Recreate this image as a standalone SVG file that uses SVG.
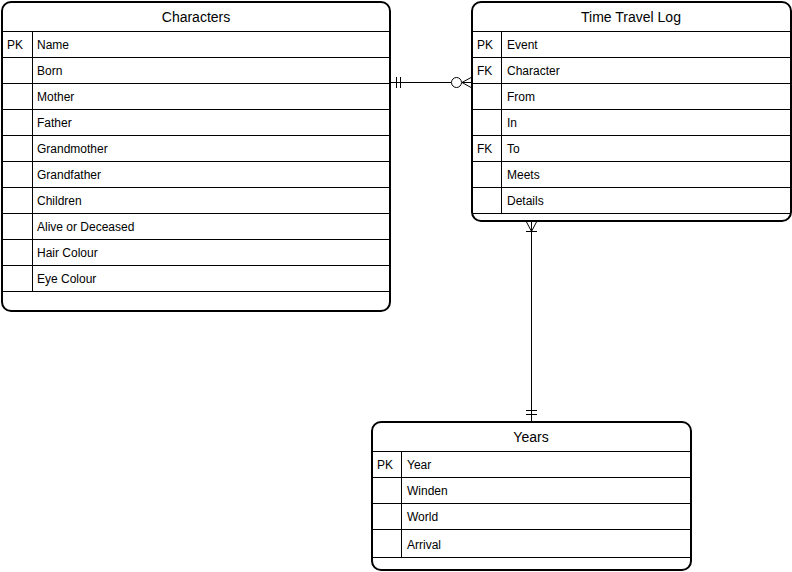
<svg xmlns="http://www.w3.org/2000/svg" width="792" height="572" viewBox="0 0 792 572">
<style>
.box{fill:#fff;stroke:#000;stroke-width:2}
.ln{stroke:#000;stroke-width:1;fill:none}
.t{font-family:"Liberation Sans",Arial,sans-serif;font-size:12px;fill:#000}
.h{font-family:"Liberation Sans",Arial,sans-serif;font-size:14px;fill:#000;text-anchor:middle}
</style>
<rect width="792" height="572" fill="#fff"/>
<g id="characters">
<rect class="box" x="2" y="2" width="388" height="309" rx="9"/>
<text class="h" x="196" y="22">Characters</text>
<path class="ln" d="M2 31.5H390M2 57.5H390M2 83.5H390M2 109.5H390M2 135.5H390M2 161.5H390M2 187.5H390M2 213.5H390M2 239.5H390M2 265.5H390M2 291.5H390M32.5 31V291"/>
<text class="t" x="7" y="49">PK</text>
<text class="t" x="37" y="49">Name</text>
<text class="t" x="37" y="75">Born</text>
<text class="t" x="37" y="101">Mother</text>
<text class="t" x="37" y="127">Father</text>
<text class="t" x="37" y="153">Grandmother</text>
<text class="t" x="37" y="179">Grandfather</text>
<text class="t" x="37" y="205">Children</text>
<text class="t" x="37" y="231">Alive or Deceased</text>
<text class="t" x="37" y="257">Hair Colour</text>
<text class="t" x="37" y="283">Eye Colour</text>
</g>
<g id="timetravellog">
<rect class="box" x="472" y="2" width="319" height="219" rx="9"/>
<text class="h" x="631" y="22">Time Travel Log</text>
<path class="ln" d="M472 31.5H791M472 57.5H791M472 83.5H791M472 109.5H791M472 135.5H791M472 161.5H791M472 187.5H791M472 213.5H791M501.5 31V213"/>
<text class="t" x="477" y="49">PK</text>
<text class="t" x="507" y="49">Event</text>
<text class="t" x="477" y="75">FK</text>
<text class="t" x="507" y="75">Character</text>
<text class="t" x="507" y="101">From</text>
<text class="t" x="507" y="127">In</text>
<text class="t" x="477" y="153">FK</text>
<text class="t" x="507" y="153">To</text>
<text class="t" x="507" y="179">Meets</text>
<text class="t" x="507" y="205">Details</text>
</g>
<g id="years">
<rect class="box" x="372" y="422" width="319" height="148" rx="9"/>
<text class="h" x="531" y="442">Years</text>
<path class="ln" d="M372 451.5H691M372 477.5H691M372 503.5H691M372 529.5H691M372 557.5H691M401.5 451V557"/>
<text class="t" x="377" y="469">PK</text>
<text class="t" x="407" y="469">Year</text>
<text class="t" x="407" y="495">Winden</text>
<text class="t" x="407" y="521">World</text>
<text class="t" x="407" y="549">Arrival</text>
</g>
<g id="connectors">
<path class="ln" d="M390 82.5H451M396.5 77V88M400.5 77V88"/>
<circle class="ln" cx="456.5" cy="82.5" r="5" fill="#fff"/>
<path class="ln" d="M462 82.5H472M462 82.5L472 77M462 82.5L472 88"/>
<path class="ln" d="M531.5 221V422M526 231.5H537M526 221L531.5 231.5L537 221M526 410.5H537M526 414.5H537"/>
</g>
</svg>
